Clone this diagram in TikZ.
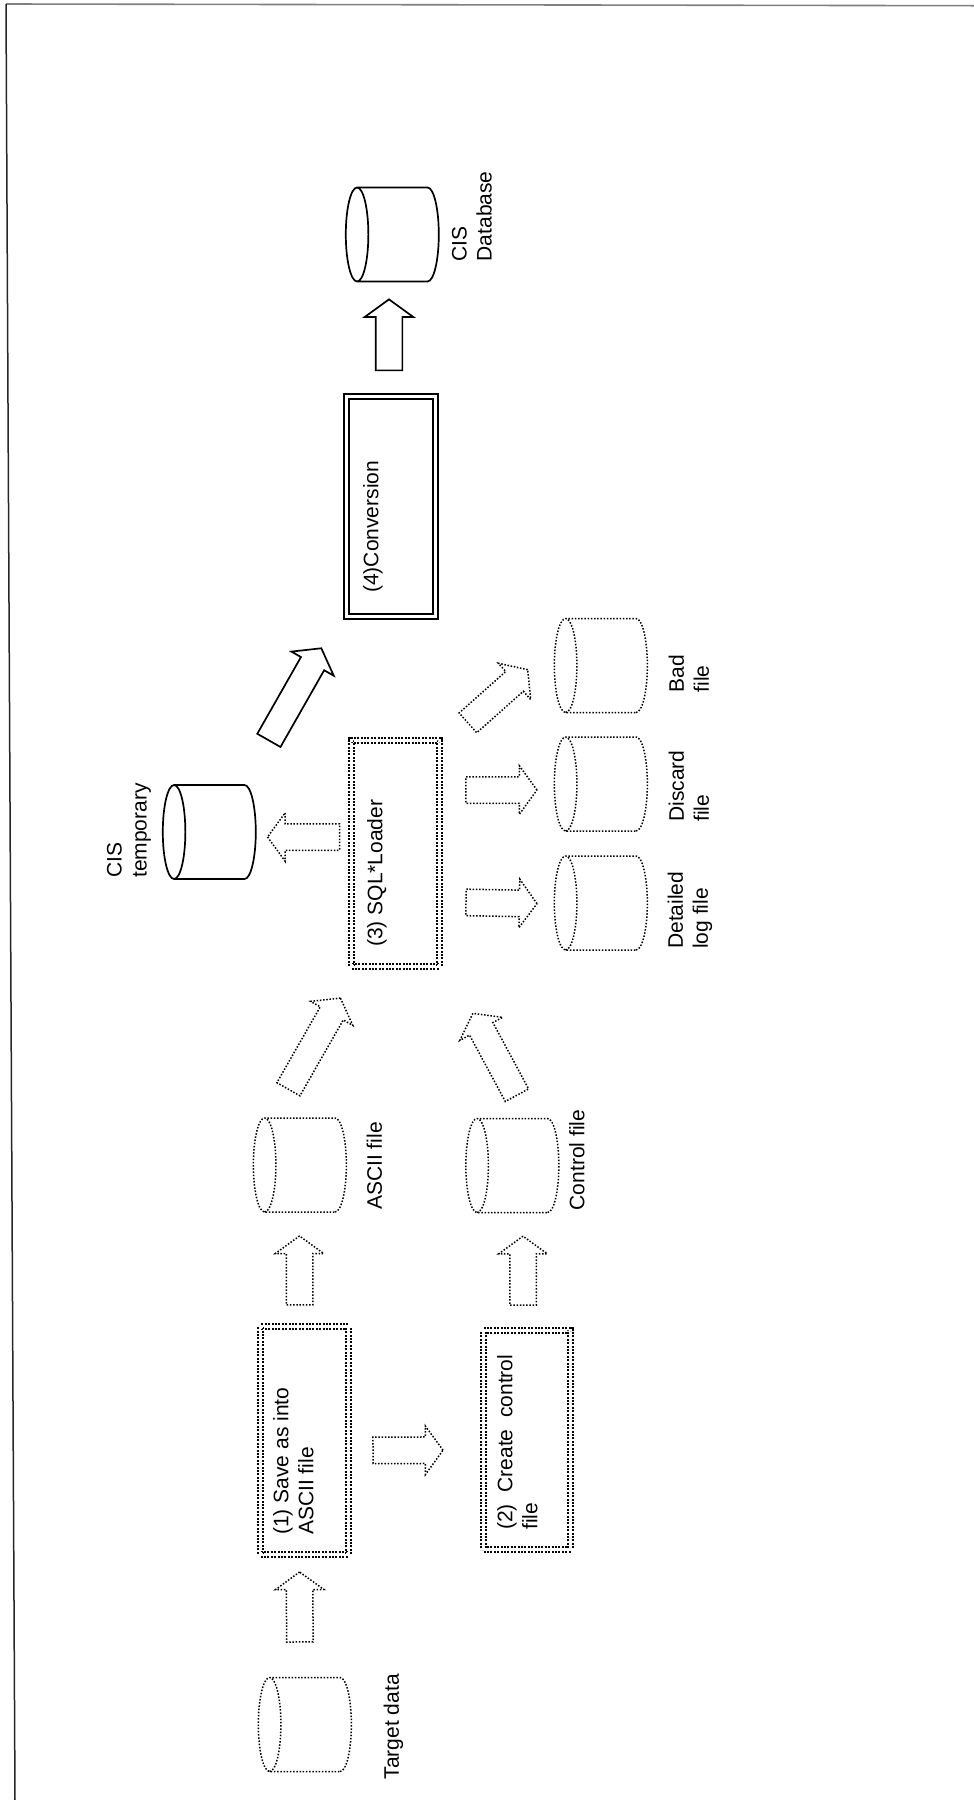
\documentclass[tikz,border=0pt]{standalone}
\usepackage{fontspec}
\setmainfont{Liberation Sans}
\usetikzlibrary{shapes.geometric, shapes.arrows}
\tikzset{
    dotline/.style={line width=1.5pt, dash pattern=on 1.5pt off 1.7pt},
    solidline/.style={line width=1.7pt},
    datastore/.style={cylinder, draw, shape border rotate=180, shape aspect=0.24, minimum width=93pt, minimum height=93pt, inner xsep=0pt, inner ysep=47pt, outer sep=0pt},
    processbox/.style={rectangle, draw, double, line width=2.2pt, double distance=2.6pt, outer sep=3.5pt, inner sep=0pt},
    dotbox/.style={processbox, dash pattern=on 2pt off 1.4pt},
    blockarrow/.style={single arrow, draw, sloped, allow upside down, single arrow head extend=11pt, single arrow tip angle=108, inner xsep=0pt, inner ysep=12.5pt, outer sep=0pt},
    caption/.style={rotate=90, anchor=north west, align=left, inner sep=0pt, font=\fontsize{21}{25}\selectfont}
}
\begin{document}
\begin{tikzpicture}[x=1pt, y=-1pt]
    \useasboundingbox (0,0) rectangle (974,1800);
    % Page edge
    \draw[gray, line width=1.6pt] (6,4) -- (974,5.7);
    \draw[black!85, line width=1.5pt] (6,4) -- (15,1800);
    % Data stores
    \node[datastore, dotline] (target) at (316.5,1724.5) {};
    \node[datastore, dotline] (ascii) at (311.5,1165) {};
    \node[datastore, dotline] (control) at (524,1165.5) {};
    \node[datastore, dotline] (detail) at (612.5,903) {};
    \node[datastore, dotline] (discard) at (612.5,784) {};
    \node[datastore, dotline] (bad) at (612.5,665.5) {};
    \node[datastore, solidline] (temp) at (221,832) {};
    \node[datastore, solidline] (db) at (404,234.5) {};
    % Process boxes
    \node[dotbox, minimum width=88pt, minimum height=228pt] (save) at (304.5,1440.5) {};
    \node[dotbox, minimum width=87pt, minimum height=219pt] (create) at (527,1440) {};
    \node[dotbox, minimum width=88pt, minimum height=226pt] (loader) at (395.5,853.5) {};
    \node[processbox, minimum width=89pt, minimum height=220pt] (convert) at (391,506.5) {};
    % Box texts
    \node[caption] (savetxt) at ([xshift=16pt, yshift=23pt]save.south west) {(1) Save as into\\ASCII file};
    \node[caption] (createtxt) at ([xshift=17pt, yshift=23pt]create.south west) {(2)~~Create~~control\\file};
    \node[caption] (loadertxt) at ([xshift=19pt, yshift=23pt]loader.south west) {(3) SQL*Loader};
    \node[caption] (converttxt) at ([xshift=20pt, yshift=27pt]convert.south west) {(4)Conversion};
    % Store labels
    \node[caption] (targettxt) at ([xshift=32pt, yshift=-8pt]target.east |- target.south) {Target data};
    \node[caption] (asciitxt) at ([xshift=20pt, yshift=2pt]ascii.east |- ascii.south) {ASCII file};
    \node[caption] (controltxt) at ([xshift=10pt, yshift=2pt]control.east |- control.south) {Control file};
    \node[caption] (detailtxt) at ([xshift=20pt, yshift=1pt]detail.east |- detail.south) {Detailed\\log file};
    \node[caption] (discardtxt) at ([xshift=21pt, yshift=9pt]discard.east |- discard.south) {Discard\\file};
    \node[caption] (badtxt) at ([xshift=21pt, yshift=20pt]bad.east |- bad.south) {Bad\\file};
    \node[caption] (temptxt) at ([xshift=-56pt, yshift=1pt]temp.west |- temp.south) {CIS\\temporary};
    \node[caption] (dbtxt) at ([xshift=13pt, yshift=20pt]db.east |- db.south) {CIS\\Database};
    % Dotted arrows
    \path ([xshift=-16.5pt]target.north) -- node[blockarrow, dotline, pos=.55, minimum height=70pt] (a1) {} ([xshift=-5pt]save.south);
    \path ([xshift=-5pt]save.north) -- node[blockarrow, dotline, pos=.43, minimum height=69pt] (a2) {} ([xshift=-12pt]ascii.south);
    \path ([yshift=-10pt]save.east) -- node[blockarrow, dotline, pos=.40, minimum height=70pt] (a3) {} ([yshift=-10pt]create.west);
    \path ([xshift=-4pt]create.north) -- node[blockarrow, dotline, pos=.45, minimum height=69pt] (a4) {} ([xshift=-1pt]control.south);
    \path ([xshift=-39.5pt]ascii.north) -- node[blockarrow, dotline, pos=.474, minimum height=105pt] (a5) {} ([xshift=-39pt]loader.south);
    \path ([xshift=5.5pt]control.north) -- node[blockarrow, dotline, pos=.404, minimum height=93pt] (a6) {} ([xshift=54pt]loader.south);
    \path ([yshift=16.5pt]loader.west) -- node[blockarrow, dotline, pos=.43, minimum height=72pt] (a7) {} ([yshift=-5pt]temp.east);
    \path ([yshift=-48.5pt]loader.east) -- node[blockarrow, dotline, pos=.482, minimum height=71pt] (a10) {} ([yshift=-1pt]detail.west);
    \path ([yshift=63.5pt]loader.east) -- node[blockarrow, dotline, pos=.482, minimum height=71pt] (a11) {} ([yshift=-6pt]discard.west);
    \path ([yshift=108.5pt]loader.east) -- node[blockarrow, dotline, pos=.46, minimum height=80pt] (a12) {} ([yshift=19.5pt]bad.west);
    % Solid arrows
    \path ([xshift=22.5pt]temp.north) -- node[blockarrow, solidline, pos=.524, minimum height=106pt] (a8) {} ([xshift=-53.6pt]convert.south);
    \path ([xshift=-2pt]convert.north) -- node[blockarrow, solidline, pos=.478, minimum height=71pt] (a9) {} ([xshift=-15pt]db.south);
\end{tikzpicture}
\end{document}
